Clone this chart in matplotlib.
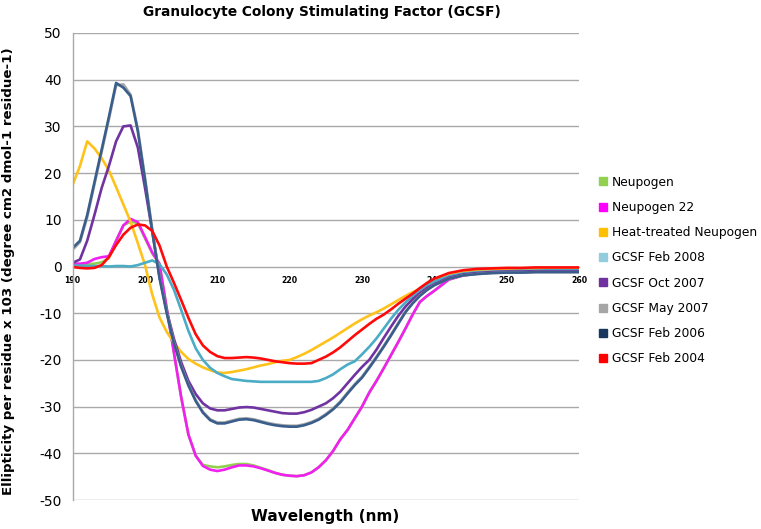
import matplotlib
matplotlib.use("Agg")
import matplotlib.pyplot as plt
from matplotlib.lines import Line2D

# ---------------- data ----------------
wavelength = list(range(190, 241)) + list(range(242, 261, 2))

neupogen = [0.5, 0.5, 0.5, 0.6, 0.9, 1.8, 5.5, 8.8, 9.6, 9.3, 6.0, 2.8, 0.5,
            -9.0, -18.5, -28.0, -36.0, -40.5, -42.5, -42.8, -43.0, -42.8, -42.5, -42.3, -42.3,
            -42.6, -43.1, -43.6, -44.2, -44.6, -44.8, -44.9, -44.7, -44.1, -43.0, -41.5,
            -39.5, -37.0, -35.0, -32.5, -30.0, -27.0, -24.5, -21.8, -19.0, -16.2, -13.3,
            -10.3, -7.6, -6.3, -5.2,
            -2.8, -1.9, -1.5, -1.3, -1.2, -1.2, -1.1, -1.1, -1.1, -1.1]
neupogen22 = [0.6, 0.6, 0.8, 1.6, 2.0, 2.2, 5.5, 8.8, 10.2, 9.5, 6.3, 3.0, 0.6,
              -9.0, -18.5, -28.0, -36.0, -40.5, -42.7, -43.5, -43.8, -43.5, -43.0, -42.6, -42.6,
              -42.8, -43.2, -43.7, -44.2, -44.6, -44.8, -44.9, -44.7, -44.1, -43.0, -41.5,
              -39.5, -37.0, -35.0, -32.5, -30.0, -27.0, -24.5, -21.8, -19.0, -16.2, -13.3,
              -10.3, -7.6, -6.3, -5.2,
              -2.8, -1.9, -1.5, -1.3, -1.2, -1.2, -1.1, -1.1, -1.1, -1.1]
heat_treated = [17.5, 21.5, 26.8, 25.3, 23.2, 20.6, 17.0, 13.3, 9.6, 5.0, 0.3, -6.0, -10.9,
                -14.0, -16.3, -18.3, -19.8, -20.8, -21.6, -22.2, -22.7, -22.8, -22.6, -22.3, -22.0,
                -21.6, -21.2, -20.9, -20.5, -20.2, -20.0, -19.4, -18.7, -17.9, -17.0, -16.1,
                -15.2, -14.2, -13.2, -12.2, -11.3, -10.5, -9.8, -9.0, -8.1, -7.2, -6.3,
                -5.5, -4.8, -3.9, -3.1,
                -1.9, -1.3, -0.9, -0.7, -0.6, -0.6, -0.5, -0.5, -0.5, -0.5]
gcsf_feb2008 = [0.2, 0.2, 0.1, 0.1, 0.1, 0.0, 0.1, 0.1, 0.0, 0.3, 0.8, 1.3, 0.5,
                -1.7, -5.0, -9.3, -13.8, -17.5, -20.0, -21.7, -22.8, -23.5, -24.1, -24.3, -24.5,
                -24.6, -24.7, -24.7, -24.7, -24.7, -24.7, -24.7, -24.7, -24.7, -24.5, -23.9,
                -23.1, -22.0, -21.0, -20.3, -18.8, -17.2, -15.4, -13.3, -11.2, -9.3, -7.7,
                -6.3, -5.0, -4.0, -3.2,
                -2.1, -1.5, -1.2, -1.1, -1.0, -0.9, -0.9, -0.8, -0.8, -0.8]
gcsf_oct2007 = [0.8, 1.5, 5.5, 11.0, 16.8, 21.5, 26.8, 30.0, 30.2, 25.5, 16.8, 7.5, -2.0,
                -9.5, -15.5, -20.5, -24.5, -27.3, -29.3, -30.4, -30.8, -30.8, -30.5, -30.2, -30.1,
                -30.2, -30.5, -30.8, -31.1, -31.4, -31.5, -31.5, -31.2, -30.7, -30.0, -29.3,
                -28.2, -26.8, -25.0, -23.2, -21.5, -20.0, -17.8, -15.3, -12.9, -10.6, -8.6,
                -7.0, -5.7, -4.6, -3.8,
                -2.4, -1.7, -1.4, -1.2, -1.1, -1.1, -1.0, -1.0, -1.0, -1.0]
gcsf_may2007 = [3.6, 5.2, 10.5, 17.5, 24.5, 31.5, 38.8, 39.0, 36.8, 29.5, 19.0, 8.0, -2.2,
                -9.8, -16.3, -21.3, -25.3, -28.6, -31.1, -32.7, -33.4, -33.4, -33.0, -32.6, -32.5,
                -32.7, -33.1, -33.5, -33.8, -34.0, -34.1, -34.1, -33.8, -33.3, -32.6, -31.6,
                -30.4, -28.9, -27.0, -25.2, -23.6, -21.5, -19.3, -17.0, -14.6, -12.1, -9.7,
                -7.8, -6.2, -5.0, -4.0,
                -2.6, -1.9, -1.6, -1.4, -1.3, -1.3, -1.2, -1.2, -1.2, -1.2]
gcsf_feb2006 = [4.0, 5.5, 11.0, 18.0, 25.0, 32.0, 39.3, 38.3, 36.5, 29.0, 18.5, 7.5, -2.5,
                -10.0, -16.5, -21.5, -25.5, -28.8, -31.3, -32.9, -33.6, -33.6, -33.2, -32.8, -32.7,
                -32.9, -33.3, -33.7, -34.0, -34.2, -34.3, -34.3, -34.0, -33.5, -32.8, -31.8,
                -30.6, -29.1, -27.2, -25.4, -23.8, -21.7, -19.5, -17.2, -14.8, -12.3, -9.8,
                -7.9, -6.3, -5.0, -4.0,
                -2.6, -1.9, -1.6, -1.4, -1.3, -1.3, -1.2, -1.2, -1.2, -1.2]
gcsf_feb2004 = [-0.1, -0.3, -0.4, -0.3, 0.3, 2.0, 4.6, 6.8, 8.3, 9.0, 8.8, 7.6, 4.5,
                0.0, -3.5, -7.2, -11.0, -14.5, -16.9, -18.3, -19.2, -19.6, -19.6, -19.5, -19.4,
                -19.5, -19.7, -20.0, -20.3, -20.5, -20.7, -20.8, -20.8, -20.7, -20.0, -19.3,
                -18.4, -17.3, -16.0, -14.7, -13.5, -12.3, -11.2, -10.3, -9.2, -8.0, -6.9,
                -5.8, -4.6, -3.5, -2.6,
                -1.4, -0.8, -0.5, -0.4, -0.3, -0.3, -0.2, -0.2, -0.2, -0.2]

series_labels = ["Neupogen", "Neupogen 22", "Heat-treated Neupogen", "GCSF Feb 2008",
                 "GCSF Oct 2007", "GCSF May 2007", "GCSF Feb 2006", "GCSF Feb 2004"]
series_values = [neupogen, neupogen22, heat_treated, gcsf_feb2008,
                 gcsf_oct2007, gcsf_may2007, gcsf_feb2006, gcsf_feb2004]
line_colors = ["#92D050", "#F21FF2", "#FFC21A", "#4BACC6",
               "#7033A0", "#A6A6A6", "#3A5E8C", "#FF0A0A"]
legend_colors = ["#92D050", "#FF00FF", "#FFC000", "#93CDDD",
                 "#7030A0", "#A6A6A6", "#17375E", "#FF0000"]

x_ticks = [190, 200, 210, 220, 230, 240, 250, 260]
y_ticks = [-50, -40, -30, -20, -10, 0, 10, 20, 30, 40, 50]

title = "Granulocyte Colony Stimulating Factor (GCSF)"
x_label = "Wavelength (nm)"
y_label = "Ellipticity per residue x 103 (degree cm2 dmol-1 residue-1)"

# ---------------- figure ----------------
plt.rcParams['font.family'] = ['DejaVu Sans']
W, H = 761, 529
fig = plt.figure(figsize=(W / 100, H / 100), dpi=100)
ax = fig.add_axes([72.7 / W, 1 - 500 / H, (579 - 72.7) / W, (500 - 33) / H])

grid_color = "#A9A9A9"
for s in ['top', 'right']:
    ax.spines[s].set_visible(False)
ax.spines['left'].set_color(grid_color)
ax.spines['left'].set_linewidth(1.0)
ax.spines['bottom'].set_position(('data', 0))
ax.spines['bottom'].set_color(grid_color)
ax.spines['bottom'].set_linewidth(1.0)
ax.spines['bottom'].set_zorder(0)

for yv in y_ticks:
    if yv != 0:
        ax.axhline(yv, color=grid_color, lw=1.0, zorder=0)

for vals, c in zip(series_values, line_colors):
    ax.plot(wavelength, vals, color=c, lw=1.9, solid_capstyle='round',
            solid_joinstyle='round', zorder=2)

ax.set_xlim(190, 260)
ax.set_ylim(-50, 50)
ax.set_yticks(y_ticks)
ax.set_yticklabels([str(v) for v in y_ticks], fontsize=10)
ax.set_xticks(x_ticks)
ax.set_xticklabels([str(v) for v in x_ticks], fontsize=5.6, fontweight='bold')
ax.tick_params(axis='y', length=0, pad=8)
ax.tick_params(axis='x', length=0, pad=6.5)

fig.text(322 / W, 1 - 12 / H, title, ha='center', va='center',
         fontsize=9.9, fontweight='bold')
fig.text(325 / W, 1 - 516 / H, x_label, ha='center', va='center',
         fontsize=11, fontweight='bold')
fig.text(9 / W, 1 - 271.5 / H, y_label, ha='center', va='center', rotation=90,
         fontsize=9.6, fontweight='bold')

handles = [Line2D([], [], marker='s', linestyle='none', color=c, markersize=5.8)
           for c in legend_colors]
leg = fig.legend(handles, series_labels, loc='center left',
                 bbox_to_anchor=(598 / W, 1 - 270.5 / H), frameon=False,
                 fontsize=8.8, handlelength=0.8, handletextpad=0.35,
                 labelspacing=1.0, borderpad=0, borderaxespad=0)

fig.savefig("out.png", dpi=100)
